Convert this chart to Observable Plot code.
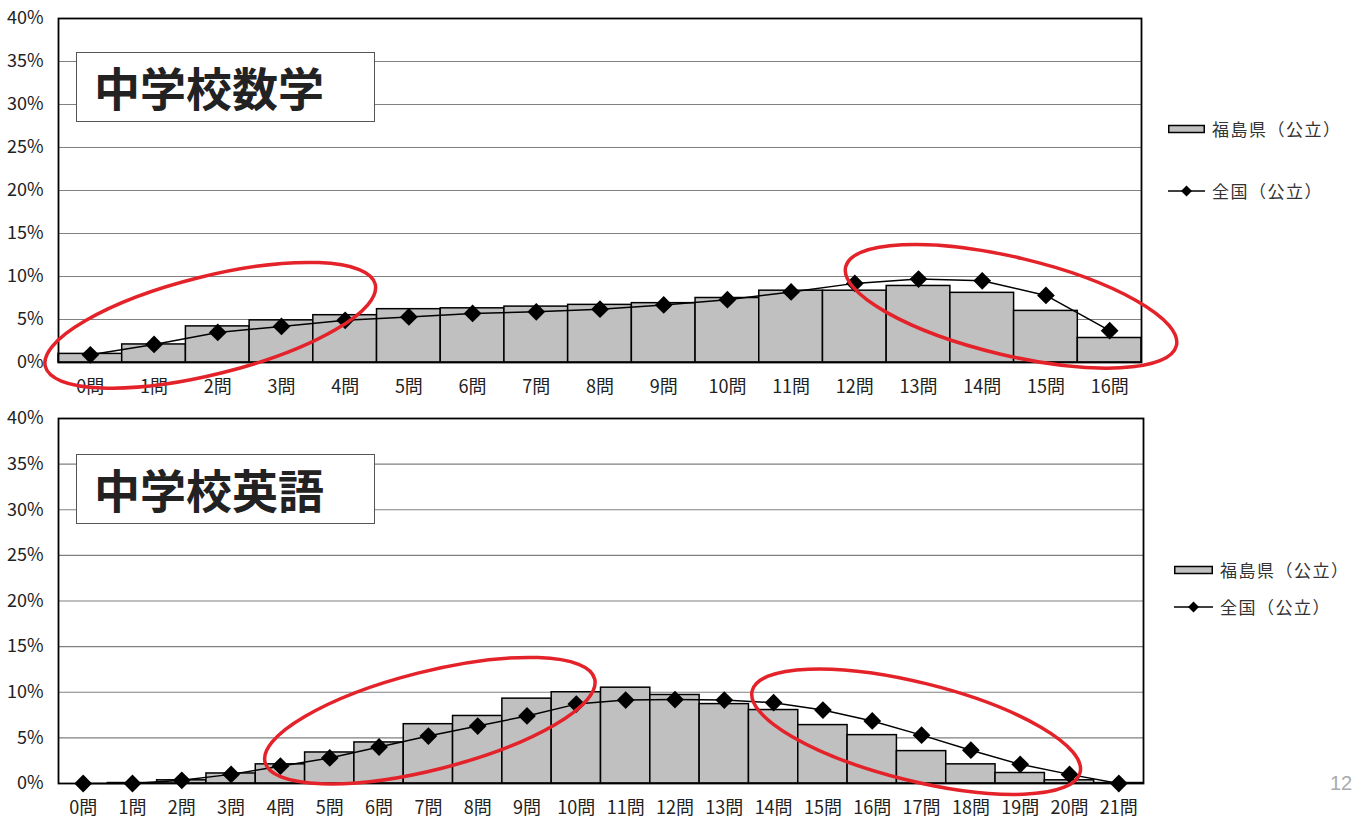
<!DOCTYPE html>
<html>
<head>
<meta charset="utf-8">
<script src="https://cdn.jsdelivr.net/npm/d3@7"></script>
<script src="https://cdn.jsdelivr.net/npm/@observablehq/plot@0.6"></script>
<style>
  html, body { margin: 0; padding: 0; background: #fff; overflow: hidden; }
  #page { position: relative; width: 1354px; height: 821px; overflow: hidden; background: #fff; }
  .panel { position: absolute; left: 0; }
  .titlebox {
    position: absolute; left: 76px; width: 299px; height: 70px;
    background: #fff; border: 1.5px solid #555; box-sizing: border-box;
    font-family: "Noto Sans CJK JP", sans-serif; font-weight: 700; font-size: 46px;
    color: #222; line-height: 66px; padding-left: 17px; white-space: nowrap;
  }
  .legend { position: absolute; font-family: "Noto Sans CJK JP", sans-serif; font-size: 17px; color: #333; letter-spacing: 1.5px; }
  .legend .row { position: absolute; left: 0; display: flex; align-items: center; white-space: nowrap; }
  .legend svg { display: block; margin-right: 7px; }
  .pageno { position: absolute; left: 1330px; top: 772px; font-family: "Liberation Sans", sans-serif; font-size: 20px; color: #aaa; }
</style>
</head>
<body>
<div id="page"></div>
<script>
// Percentage of students by number of correct answers
const mathLabels = ["0問","1問","2問","3問","4問","5問","6問","7問","8問","9問","10問","11問","12問","13問","14問","15問","16問"];
const mathFukushima = [1.0, 2.1, 4.2, 4.9, 5.5, 6.2, 6.3, 6.5, 6.7, 6.9, 7.5, 8.35, 8.35, 8.9, 8.1, 6.0, 2.85];
const mathNational  = [0.9, 2.1, 3.5, 4.2, 4.9, 5.3, 5.7, 5.9, 6.2, 6.7, 7.3, 8.2, 9.2, 9.7, 9.5, 7.8, 3.7];

const engLabels = ["0問","1問","2問","3問","4問","5問","6問","7問","8問","9問","10問","11問","12問","13問","14問","15問","16問","17問","18問","19問","20問","21問"];
const engFukushima = [0, 0.05, 0.35, 1.1, 2.1, 3.4, 4.5, 6.5, 7.4, 9.3, 10.0, 10.5, 9.7, 8.7, 8.05, 6.4, 5.3, 3.55, 2.1, 1.15, 0.35, 0.05];
const engNational  = [0, 0, 0.35, 1.0, 1.9, 2.8, 4.0, 5.2, 6.3, 7.4, 8.7, 9.15, 9.2, 9.15, 8.85, 8.05, 6.85, 5.3, 3.65, 2.1, 1.0, 0];

const yTicks = [0, 5, 10, 15, 20, 25, 30, 35, 40];
const seriesNames = ["福島県（公立）", "全国（公立）"];
const titles = ["中学校数学", "中学校英語"];

const page = document.getElementById("page");

function drawPanel({labels, fukushima, national, top, height, marginRight, highlights}) {
  const rows = labels.map((label, i) => ({i, label, fukushima: fukushima[i], national: national[i]}));
  const chart = Plot.plot({
    width: 1354,
    height,
    marginLeft: 58,
    marginRight,
    marginTop: 18,
    marginBottom: 38,
    style: {
      fontFamily: "'Liberation Sans Narrow', 'Noto Sans CJK JP', sans-serif",
      fontSize: "18px",
      color: "#222",
      background: "transparent"
    },
    x: {type: "linear", domain: [-0.5, labels.length - 0.5]},
    y: {domain: [0, 40]},
    marks: [
      Plot.gridY(yTicks, {stroke: "#808080", strokeOpacity: 1, strokeWidth: 1.2}),
      Plot.rect(rows, {
        x1: d => d.i - 0.5, x2: d => d.i + 0.5, y1: 0, y2: "fukushima",
        fill: "#c0c0c0", stroke: "#000", strokeWidth: 1.5
      }),
      Plot.line(rows, {x: "i", y: "national", stroke: "#000", strokeWidth: 1.5}),
      Plot.dot(rows, {x: "i", y: "national", symbol: "diamond2", r: 8, fill: "#000", stroke: "none"}),
      Plot.frame({stroke: "#000", strokeWidth: 1.8}),
      Plot.axisY(yTicks, {tickFormat: d => d + "%", tickSize: 0, tickPadding: 15, label: null, fill: "#222"}),
      Plot.axisX(rows.map(d => d.i), {tickFormat: i => labels[i], tickSize: 0, tickPadding: 18, label: null, fill: "#222"})
    ]
  });

  // Red highlight ellipses, centred in data coordinates
  const sx = chart.scale("x"), sy = chart.scale("y");
  const x = d3.scaleLinear(sx.domain, sx.range);
  const y = d3.scaleLinear(sy.domain, sy.range);
  const svg = d3.select(chart);
  for (const h of highlights) {
    svg.append("ellipse")
      .attr("cx", 0).attr("cy", 0)
      .attr("rx", h.rx).attr("ry", h.ry)
      .attr("transform", `translate(${x(h.x)},${y(h.y)}) rotate(${h.angle})`)
      .attr("fill", "none")
      .attr("stroke", "#e4222a")
      .attr("stroke-width", 3.5);
  }

  const wrap = document.createElement("div");
  wrap.className = "panel";
  wrap.style.top = top + "px";
  wrap.appendChild(chart);
  page.appendChild(wrap);
}

function addTitle(text, top) {
  const box = document.createElement("div");
  box.className = "titlebox";
  box.style.top = top + "px";
  box.textContent = text;
  page.appendChild(box);
}

function addLegend(left, top, gap, swatchW) {
  const lg = document.createElement("div");
  lg.className = "legend";
  lg.style.left = left + "px";
  lg.style.top = top + "px";
  const r1 = document.createElement("div");
  r1.className = "row";
  r1.style.top = "0px";
  r1.innerHTML = `<svg width="${swatchW}" height="10"><rect x="0.75" y="1.5" width="${swatchW - 1.5}" height="7" fill="#c0c0c0" stroke="#000" stroke-width="1.5"/></svg><span>${seriesNames[0]}</span>`;
  const r2 = document.createElement("div");
  r2.className = "row";
  r2.style.top = gap + "px";
  const c = swatchW / 2;
  r2.innerHTML = `<svg width="${swatchW}" height="14"><line x1="0" x2="${swatchW}" y1="7" y2="7" stroke="#000" stroke-width="1.5"/><path d="M${c},1.5L${c + 5.5},7L${c},12.5L${c - 5.5},7Z" fill="#000"/></svg><span>${seriesNames[1]}</span>`;
  lg.appendChild(r1);
  lg.appendChild(r2);
  page.appendChild(lg);
}

drawPanel({
  labels: mathLabels, fukushima: mathFukushima, national: mathNational,
  top: 0, height: 400, marginRight: 213,
  highlights: [
    {x: 1.89, y: 4.27, rx: 170, ry: 49, angle: -14},
    {x: 14.46, y: 6.48, rx: 170, ry: 49, angle: 13.4}
  ]
});
drawPanel({
  labels: engLabels, fukushima: engFukushima, national: engNational,
  top: 400, height: 421, marginRight: 211,
  highlights: [
    {x: 7.04, y: 6.83, rx: 170, ry: 49, angle: -14.2},
    {x: 16.9, y: 5.62, rx: 169, ry: 49, angle: 14}
  ]
});

addTitle(titles[0], 52);
addTitle(titles[1], 454);

addLegend(1168, 116, 62, 37);
addLegend(1174, 557, 37, 39);

const pn = document.createElement("div");
pn.className = "pageno";
pn.textContent = "12";
page.appendChild(pn);
</script>
</body>
</html>
